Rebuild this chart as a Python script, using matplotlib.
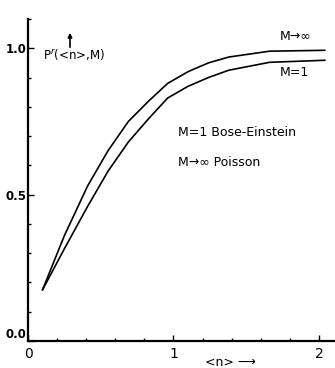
import matplotlib
matplotlib.use("Agg")
import matplotlib.pyplot as plt
from matplotlib.ticker import MultipleLocator

# Data: <n> and P(<n>, M)
n_poisson = [0.10, 0.25, 0.41, 0.55, 0.69, 0.83, 0.96, 1.10, 1.24, 1.38, 1.66, 2.04]
p_poisson = [0.175, 0.36, 0.53, 0.65, 0.75, 0.82, 0.88, 0.92, 0.95, 0.97, 0.99, 0.993]

n_bose = [0.10, 0.25, 0.41, 0.55, 0.69, 0.83, 0.96, 1.10, 1.24, 1.38, 1.66, 2.04]
p_bose = [0.175, 0.315, 0.46, 0.58, 0.68, 0.76, 0.83, 0.87, 0.90, 0.925, 0.952, 0.959]

x_ticks = [0, 1, 2]
x_tick_labels = ["0", "1", "2"]
y_ticks = [0.0, 0.5, 1.0]
y_tick_labels = ["0.0", "0.5", "1.0"]

fig = plt.figure(figsize=(3.35, 3.68), dpi=100)
ax = fig.add_axes([0.0836, 0.0734, 0.912, 0.875])

ax.plot(n_poisson, p_poisson, color="black", lw=1.2)
ax.plot(n_bose, p_bose, color="black", lw=1.2)

ax.set_xlim(0, 2.1)
ax.set_ylim(0, 1.1)
ax.spines["top"].set_visible(False)
ax.spines["right"].set_visible(False)
ax.spines["left"].set_linewidth(1.6)
ax.spines["bottom"].set_linewidth(1.6)

ax.set_xticks(x_ticks)
ax.set_xticklabels(x_tick_labels, fontsize=10)
ax.set_yticks(y_ticks)
ax.set_yticklabels(y_tick_labels, fontsize=8.5, fontweight="bold")
ax.xaxis.set_minor_locator(MultipleLocator(0.2))
ax.yaxis.set_minor_locator(MultipleLocator(0.1))
ax.tick_params(which="major", direction="in", length=4, width=1)
ax.tick_params(which="minor", direction="in", length=2.5, width=1)
ax.tick_params(axis="x", pad=4)
ax.tick_params(axis="y", pad=1)
ax.get_yticklabels()[0].set_va("bottom")

# axis labels as free text, as in the original drawing
ax.annotate("", xy=(70, 338), xytext=(70, 318), xycoords="figure pixels",
            arrowprops=dict(arrowstyle="-|>", color="black", lw=1.2, mutation_scale=6))
fig.text(43 / 335, 1 - 55 / 368, r"P$^{r}$(<n>,M)", fontsize=8.5, va="center", ha="left")
fig.text(205 / 335, 1 - 362 / 368, "<n> \u27f6", fontsize=9, va="center", ha="left")

fig.text(280 / 335, 1 - 36 / 368, "M\u2192\u221e", fontsize=9, va="center", ha="left")
fig.text(280 / 335, 1 - 73 / 368, "M=1", fontsize=9, va="center", ha="left")
fig.text(178 / 335, 1 - 133 / 368, "M=1 Bose-Einstein", fontsize=9, va="center", ha="left")
fig.text(178 / 335, 1 - 162 / 368, "M\u2192\u221e Poisson", fontsize=9, va="center", ha="left")

fig.savefig("out.png", dpi=100)
